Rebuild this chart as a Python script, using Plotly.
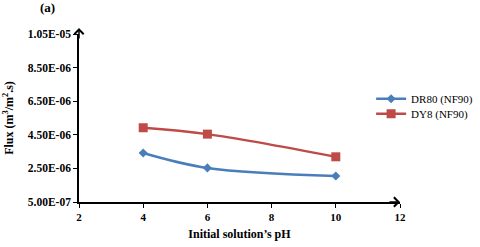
import plotly.graph_objects as go

ph = [4, 6, 10]
dr80 = [3.42e-6, 2.53e-6, 2.05e-6]
dy8 = [4.92e-6, 4.54e-6, 3.19e-6]
ytick_vals = [5e-7, 2.5e-6, 4.5e-6, 6.5e-6, 8.5e-6, 1.05e-5]
ytick_text = ["5.00E-07", "2.50E-06", "4.50E-06", "6.50E-06", "8.50E-06", "1.05E-05"]
xtick_vals = [2, 4, 6, 8, 10, 12]

FONT = "Liberation Serif, Times New Roman, serif"
fig = go.Figure()
fig.add_trace(go.Scatter(x=ph, y=dr80, name="DR80 (NF90)", mode="lines+markers",
                         legend="legend",
                         line=dict(color="#4A7EBB", width=2.5, shape="spline"),
                         marker=dict(symbol="diamond", size=7, color="#4A7EBB")))
fig.add_trace(go.Scatter(x=ph, y=dy8, name="DY8 (NF90)", mode="lines+markers",
                         legend="legend2",
                         line=dict(color="#BE4B48", width=2.5, shape="spline"),
                         marker=dict(symbol="square", size=9, color="#BE4B48")))

leg_common = dict(xanchor="left", yanchor="middle",
                  font=dict(family=FONT, size=11, color="black"),
                  bgcolor="rgba(0,0,0,0)", itemwidth=30)

fig.update_layout(
    width=480, height=247,
    margin=dict(l=79, r=80, t=34, b=45, autoexpand=False),
    paper_bgcolor="white", plot_bgcolor="white",
    font=dict(family=FONT, color="black", size=11),
    showlegend=True,
    legend=dict(x=0.91, y=0.615, **leg_common),
    legend2=dict(x=0.91, y=0.525, **leg_common),
    xaxis=dict(range=[2, 12], tickvals=xtick_vals, showgrid=False, zeroline=False,
               automargin=False,
               showline=True, linecolor="black", linewidth=1.5,
               ticks="outside", ticklen=4, tickcolor="black",
               tickfont=dict(family=FONT, size=11, color="black", weight="bold"),
               title=dict(text="<b>Initial solution’s pH</b>", standoff=8,
                          font=dict(family=FONT, size=12, color="black"))),
    yaxis=dict(range=[5e-7, 1.05e-5], tickvals=ytick_vals, ticktext=ytick_text,
               showgrid=False, zeroline=False, automargin=False,
               showline=True, linecolor="black", linewidth=1.5,
               ticks="outside", ticklen=4, tickcolor="black",
               tickfont=dict(family=FONT, size=11.5, color="black", weight="bold"),
               title=dict(text="<b>Flux (m<sup>3</sup>/m<sup>2</sup>.s)</b>", standoff=12,
                          font=dict(family=FONT, size=12, color="black"))),
)

# axis arrows
fig.add_annotation(xref="paper", yref="paper", x=0, y=1.035, ax=0, ay=12, text="",
                   showarrow=True, arrowhead=4, arrowsize=1.2, arrowwidth=1.5, arrowcolor="black")
fig.add_annotation(xref="paper", yref="paper", x=1.0, y=0, ax=-12, ay=0, text="",
                   showarrow=True, arrowhead=4, arrowsize=1.2, arrowwidth=1.5, arrowcolor="black")

# panel label, placed relative to the plot's left edge
fig.add_annotation(xref="paper", yref="paper", x=0, y=1, xanchor="right", yanchor="bottom",
                   xshift=-22, yshift=17, text="<b>(a)</b>", showarrow=False,
                   font=dict(family=FONT, size=13, color="black"))

fig.write_html("out.html", config={"displayModeBar": False},
               post_script="document.body.style.margin='0';document.body.style.padding='0';")
